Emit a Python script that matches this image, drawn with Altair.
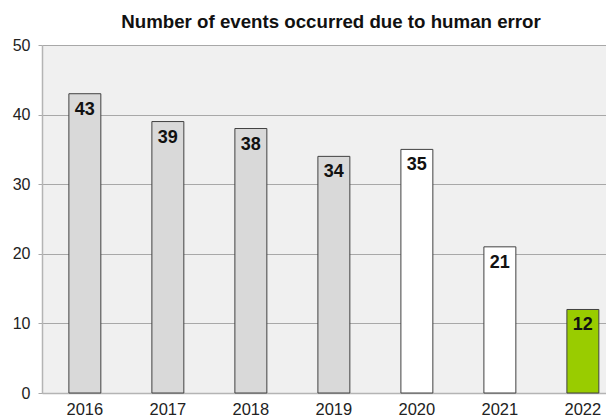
import altair as alt
import pandas as pd

years = ["2016", "2017", "2018", "2019", "2020", "2021", "2022"]
counts = [43, 39, 38, 34, 35, 21, 12]
groups = ["before", "before", "before", "before", "covid", "covid", "current"]

df = pd.DataFrame({"year": years, "count": counts, "group": groups})

FONT = "Liberation Sans"

base = alt.Chart(df).encode(
    x=alt.X(
        "year:N",
        sort=years,
        title=None,
        scale=alt.Scale(paddingInner=0.615, paddingOuter=0.205, align=0.79),
        axis=alt.Axis(
            labelAngle=0,
            ticks=False,
            labelFontSize=16.5,
            labelPadding=8,
            labelColor="#222222",
            labelFont=FONT,
            domainColor="#b4b4b4",
            domainWidth=1.5,
        ),
    ),
    y=alt.Y(
        "count:Q",
        title=None,
        scale=alt.Scale(domain=[0, 50], nice=False),
        axis=alt.Axis(
            values=[0, 10, 20, 30, 40, 50],
            grid=True,
            gridColor="#a8a8a8",
            tickColor="#a8a8a8",
            tickSize=4,
            labelFontSize=16,
            labelPadding=8,
            labelColor="#222222",
            labelFont=FONT,
            domainColor="#b4b4b4",
            domainWidth=1.5,
        ),
    ),
)

bars = base.mark_bar(stroke="#404040", strokeWidth=1).encode(
    color=alt.Color(
        "group:N",
        scale=alt.Scale(domain=["before", "covid", "current"], range=["#d9d9d9", "#ffffff", "#99cc00"]),
        legend=None,
    )
)

labels = base.mark_text(
    baseline="top", dy=7, fontWeight="bold", fontSize=18, font=FONT, color="#111111"
).encode(text="count:Q")

chart = (
    (bars + labels)
    .properties(
        width=564,
        height=348,
        title=alt.TitleParams(
            "Number of events occurred due to human error",
            font=FONT,
            fontSize=18.7,
            fontWeight="bold",
            color="#111111",
            offset=5,
            dx=7,
        ),
        autosize=alt.AutoSizeParams(type="none"),
        padding={"left": 34, "top": 37, "right": 0, "bottom": 26},
    )
    .configure_view(fill="#f0f0f0", stroke=None)
)

chart.save("out.html", embed_options={"renderer": "svg", "actions": False})
